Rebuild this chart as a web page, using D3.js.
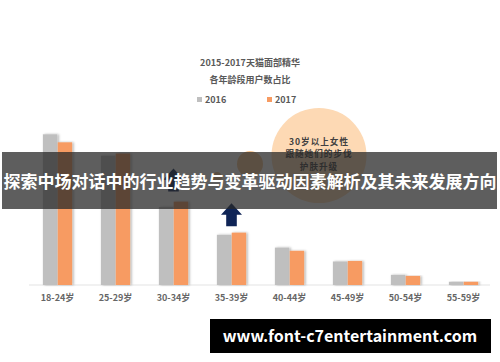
<!DOCTYPE html>
<html>
<head>
<meta charset="utf-8">
<script src="https://cdn.jsdelivr.net/npm/d3@7"></script>
<style>
  html, body { margin: 0; padding: 0; background: #fff; }
  #chart { width: 500px; height: 362px; }
  text { font-family: "Noto Sans CJK SC", "Noto Sans", sans-serif; }
</style>
</head>
<body>
<div id="chart"></div>
<script>
const width = 500, height = 362;

// data (share of users, %)
const ages = ["18-24岁", "25-29岁", "30-34岁", "35-39岁", "40-44岁", "45-49岁", "50-54岁", "55-59岁"];
const years = ["2016", "2017"];
const share2016 = [28.2, 24.2, 14.6, 9.4, 7.0, 4.4, 1.9, 0.6];
const share2017 = [26.7, 24.6, 15.6, 9.8, 6.4, 4.5, 1.7, 0.6];
const titleLines = ["2015-2017天猫面部精华", "各年龄段用户数占比"];
const calloutLines = ["30岁以上女性", "跟随她们的步伐", "护肤升级"];
const arrows = [{age: "30-34岁", value: 21.8}, {age: "35-39岁", value: 15.3}];
const bannerText = "探索中场对话中的行业趋势与变革驱动因素解析及其未来发展方向";
const watermark = "www.font-c7entertainment.com";

const color = d3.scaleOrdinal().domain(years).range(["#bfbfbf", "#f79b62"]);

const x0 = d3.scaleBand().domain(ages).range([28.5, 492.5]).paddingInner(0.48).paddingOuter(0.24);
const x1 = d3.scaleBand().domain(years).range([0, x0.bandwidth()]).padding(0.03);
const y = d3.scaleLinear().domain([0, 30]).range([285, 124.7]);

const rows = ages.map((a, i) => ({age: a, values: [
  {year: "2016", value: share2016[i]},
  {year: "2017", value: share2017[i]}
]}));

const svg = d3.select("#chart").append("svg")
  .attr("width", width).attr("height", height)
  .attr("viewBox", [0, 0, width, height]);

const defs = svg.append("defs");
const shadow = defs.append("filter").attr("id", "shadow")
  .attr("x", "-30%").attr("y", "-10%").attr("width", "160%").attr("height", "120%");
shadow.append("feDropShadow").attr("dx", 1.5).attr("dy", 0).attr("stdDeviation", 0.8)
  .attr("flood-color", "#000").attr("flood-opacity", 0.3);

// title + legend
svg.append("g").selectAll("text").data(titleLines).join("text")
  .attr("x", 250).attr("y", (d, i) => 63 + i * 16.5)
  .attr("dy", "0.35em").attr("text-anchor", "middle")
  .attr("font-size", 9).attr("font-weight", "bold").attr("fill", "#595959")
  .text(d => d);

const legend = svg.append("g").selectAll("g").data(years).join("g")
  .attr("transform", (d, i) => `translate(${197 + i * 70},${99.5})`);
legend.append("rect").attr("x", 0).attr("y", -2.5).attr("width", 5).attr("height", 5)
  .attr("fill", d => color(d));
legend.append("text").attr("x", 8).attr("dy", "0.35em")
  .attr("font-size", 9).attr("font-weight", "bold").attr("fill", "#595959")
  .text(d => d);

// callout circles
const deco = svg.append("g");
deco.append("circle").attr("cx", 319).attr("cy", 155.5).attr("r", 47.5).attr("fill", "#fdd9b4");
deco.append("circle").attr("cx", 250).attr("cy", 164).attr("r", 13).attr("fill", "#f4c28e");
deco.append("circle").attr("cx", 217).attr("cy", 177).attr("r", 5).attr("fill", "#f4c28e");
deco.selectAll("text").data(calloutLines).join("text")
  .attr("x", 319).attr("y", (d, i) => 141.5 + i * 12.6)
  .attr("dy", "0.35em").attr("text-anchor", "middle")
  .attr("font-size", 8.6).attr("letter-spacing", 1)
  .attr("font-weight", "bold").attr("fill", "#404040")
  .text(d => d);

// axis baseline
svg.append("line").attr("x1", 29).attr("x2", 490).attr("y1", y(0)).attr("y2", y(0))
  .attr("stroke", "#e3e3e3").attr("stroke-width", 1);

// bars
const groups = svg.append("g").selectAll("g").data(rows).join("g")
  .attr("transform", d => `translate(${x0(d.age)},0)`);
groups.selectAll("rect").data(d => d.values).join("rect")
  .attr("x", d => x1(d.year))
  .attr("y", d => y(d.value))
  .attr("width", x1.bandwidth())
  .attr("height", d => y(0) - y(d.value))
  .attr("fill", d => color(d.year))
  .attr("filter", "url(#shadow)");

// x axis labels
const xAxis = svg.append("g").attr("transform", `translate(0,${y(0)})`)
  .call(d3.axisBottom(x0).tickSize(0).tickPadding(10));
xAxis.select(".domain").remove();
xAxis.selectAll("text")
  .attr("font-size", 9).attr("font-weight", "bold").attr("fill", "#666")
  .attr("font-family", "'Noto Sans CJK SC', sans-serif");

// up arrows
const arrowPath = "M0,0 L10.5,11.5 L5.3,11.5 L5.3,23 L-5.3,23 L-5.3,11.5 L-10.5,11.5 Z";
svg.append("g").selectAll("path").data(arrows).join("path")
  .attr("transform", d => `translate(${x0(d.age) + x0.bandwidth() / 2},${y(d.value)})`)
  .attr("d", arrowPath)
  .attr("fill", "#0f2456");

// banner overlay
svg.append("rect").attr("x", 2).attr("y", 152).attr("width", 495).attr("height", 57)
  .attr("fill", "rgb(40,40,40)").attr("fill-opacity", 0.75);
svg.append("text").attr("x", 250).attr("y", 182).attr("dy", "0.35em")
  .attr("text-anchor", "middle").attr("font-size", 17).attr("font-weight", "bold")
  .attr("fill", "#fff").text(bannerText);

// watermark
svg.append("rect").attr("x", 210).attr("y", 319).attr("width", 281).attr("height", 34).attr("fill", "#000");
svg.append("text").attr("x", 350).attr("y", 336).attr("dy", "0.35em")
  .attr("text-anchor", "middle").attr("font-size", 16).attr("font-weight", "bold")
  .attr("font-family", "'Open Sans', sans-serif")
  .attr("fill", "#fff").text(watermark);
</script>
</body>
</html>
